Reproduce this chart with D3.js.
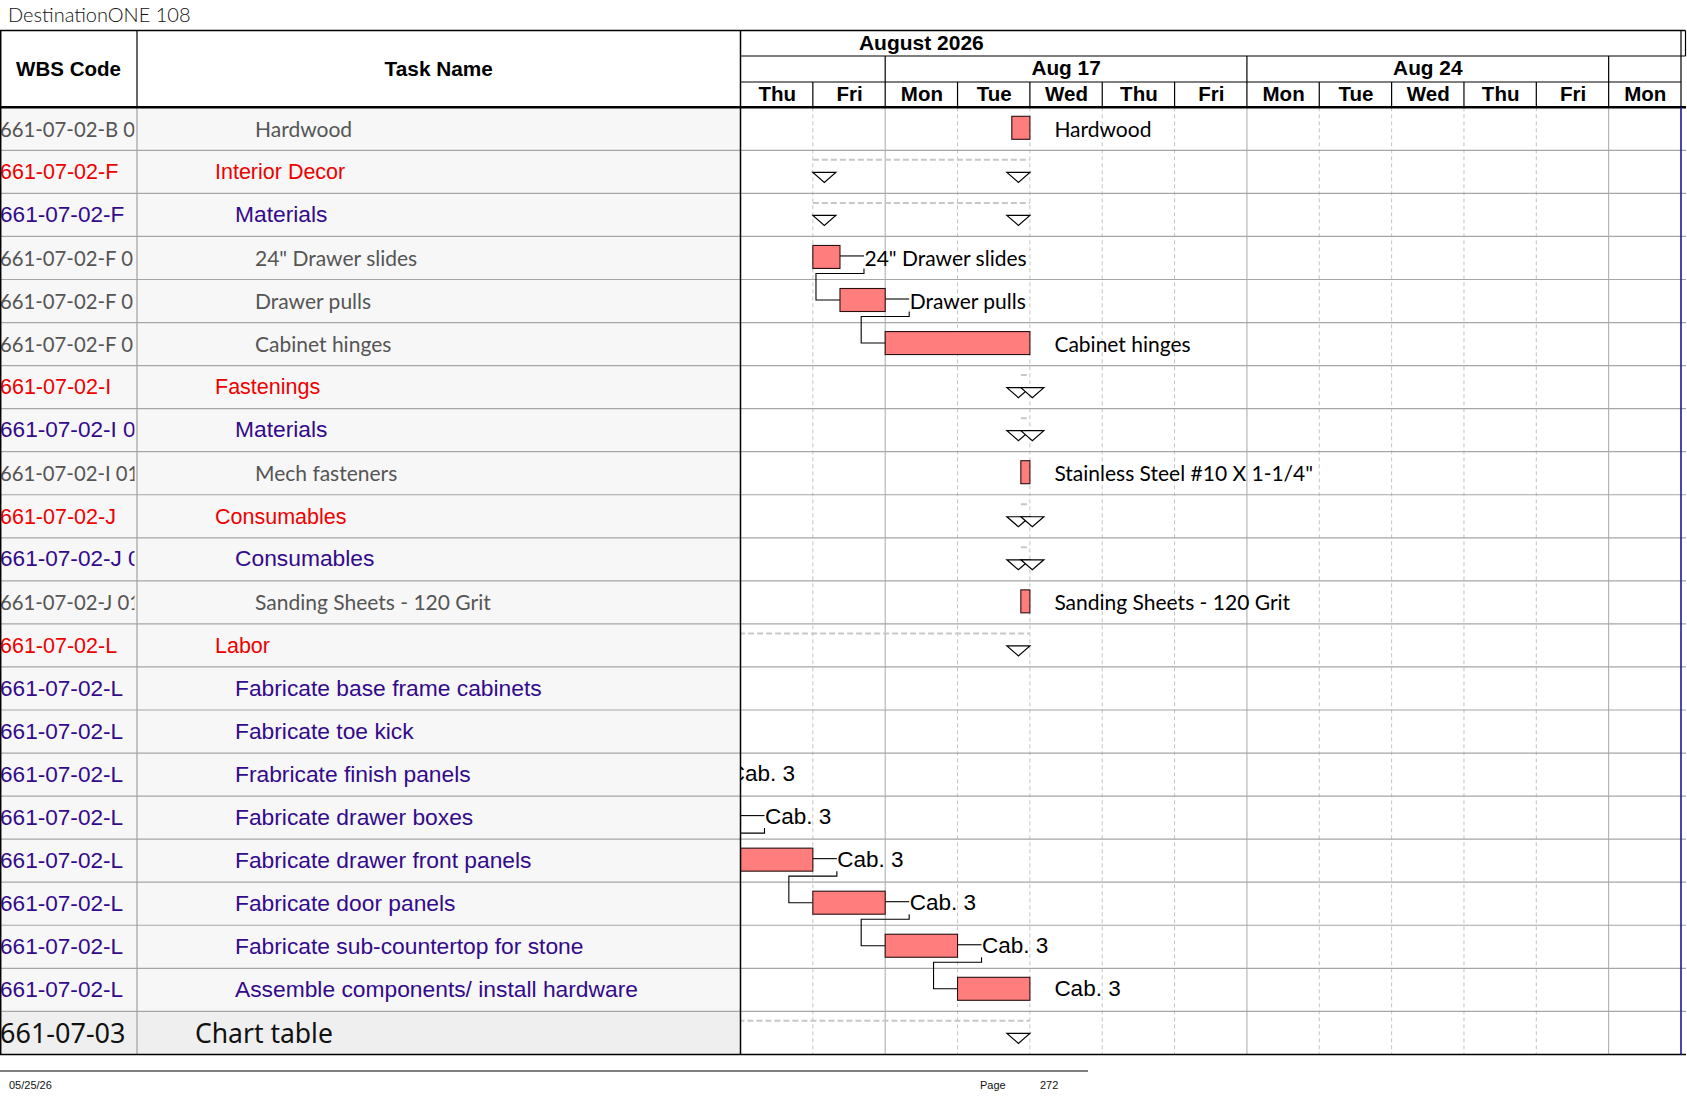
<!DOCTYPE html>
<html><head><meta charset="utf-8">
<script src="https://cdn.jsdelivr.net/npm/d3@7"></script>
<style>html,body{margin:0;padding:0;background:#fff;} svg{display:block;}</style>
</head><body><svg id="c" width="1687" height="1097"></svg>
<script>
// ---------------- DATA ----------------
const title = "DestinationONE 108";
const headerWbs = "WBS Code";
const headerTask = "Task Name";
const monthLabel = "August 2026";
const dayLabels = ["Thu","Fri","Mon","Tue","Wed","Thu","Fri","Mon","Tue","Wed","Thu","Fri","Mon"];
const weekLabels = ["", "Aug 17", "Aug 24", ""];
const wbsCodes = [
  "661-07-02-B 01", "661-07-02-F", "661-07-02-F", "661-07-02-F 01", "661-07-02-F 01", "661-07-02-F 01",
  "661-07-02-I", "661-07-02-I 01", "661-07-02-I 01", "661-07-02-J", "661-07-02-J 01", "661-07-02-J 01",
  "661-07-02-L", "661-07-02-L", "661-07-02-L", "661-07-02-L", "661-07-02-L", "661-07-02-L",
  "661-07-02-L", "661-07-02-L", "661-07-02-L", "661-07-03"
];
const taskNames = [
  "Hardwood", "Interior Decor", "Materials", "24\" Drawer slides", "Drawer pulls", "Cabinet hinges",
  "Fastenings", "Materials", "Mech fasteners", "Consumables", "Consumables", "Sanding Sheets - 120 Grit",
  "Labor", "Fabricate base frame cabinets", "Fabricate toe kick", "Frabricate finish panels",
  "Fabricate drawer boxes", "Fabricate drawer front panels", "Fabricate door panels",
  "Fabricate sub-countertop for stone", "Assemble components/ install hardware", "Chart table"
];
const taskLevels = [
  "item","group","sub","item","item","item",
  "group","sub","item","group","sub","item",
  "group","sub","sub","sub","sub","sub","sub","sub","sub","top"
];
const taskKinds = [
  "bar","summary","summary","bar","bar","bar",
  "summary","summary","bar","summary","summary","bar",
  "summary","bar","bar","bar","bar","bar","bar","bar","bar","summary"
];
// start / finish in working days counted from Thu Aug 13 (weekends skipped)
const taskStart = [3.75, 1, 1, 1, 1.375, 2, 3.875, 3.875, 3.875, 3.875, 3.875, 3.875,
                   -4, -4, -2.5, -1.5, -0.5, 0, 1, 2, 3, -6];
const taskEnd   = [4, 4, 4, 1.375, 2, 4, 4, 4, 4, 4, 4, 4,
                   4, -2.5, -1.5, -0.5, 0, 1, 2, 3, 4, 4];
const barLabels = [
  "Hardwood", "", "", "24\" Drawer slides", "Drawer pulls", "Cabinet hinges",
  "", "", "Stainless Steel #10 X 1-1/4\"", "", "", "Sanding Sheets - 120 Grit",
  "", "Cab. 3", "Cab. 3", "Cab. 3", "Cab. 3", "Cab. 3", "Cab. 3", "Cab. 3", "Cab. 3", ""
];
const links = [[3,4],[4,5],[13,14],[14,15],[15,16],[16,17],[17,18],[18,19],[19,20]];
const footerDate = "05/25/26";
const pageLabel = "Page";
const pageNumber = "272";

// ---------------- LAYOUT / STYLE ----------------
const L = {top:30.5, monthB:56, weekB:82, head:107.3, rowH:43.05, wbsR:137, taskR:740.5, tlR:1681, outerR:1685.5, lineR:1686};
const ARIAL = "'Liberation Sans', Arial, sans-serif";
const CAL = "Lato, 'Open Sans', sans-serif";
const levelStyle = {
  group: {font:ARIAL, size:21.5, wsize:21.5, color:"#ee0000", indent:215, base:28.8},
  sub:   {font:ARIAL, size:22.8, wsize:22.6, color:"#330a8c", indent:235, base:28.6},
  item:  {font:CAL,   size:21,   wsize:20.3, color:"#555555", indent:255, base:29.5},
  top:   {font:"'Noto Sans', sans-serif", size:26.5, wsize:27, color:"#111111", indent:195, base:31.5}
};

const svg = d3.select("#c");
const nRows = taskNames.length;
const bottom = L.head + nRows * L.rowH;
const y = d3.scaleBand().domain(d3.range(nRows)).range([L.head, bottom]);
const x = d3.scaleLinear().domain([0, dayLabels.length]).range([L.taskR, L.tlR]);

const defs = svg.append("defs");
defs.append("clipPath").attr("id","clipWbs").append("rect")
  .attr("x",0).attr("y",L.head).attr("width",L.wbsR-2.5).attr("height",bottom-L.head);
defs.append("clipPath").attr("id","clipTl").append("rect")
  .attr("x",L.taskR+0.5).attr("y",L.head).attr("width",L.tlR-L.taskR-0.5).attr("height",bottom-L.head);

// title
svg.append("text").attr("x",8).attr("y",22).text(title)
  .attr("font-family","Lato, sans-serif").attr("font-weight",300).attr("font-size",20).attr("fill","#111");

// row backgrounds
svg.append("g").selectAll("rect").data(d3.range(nRows)).join("rect")
  .attr("x",0).attr("y",i=>y(i)).attr("width",L.taskR).attr("height",y.bandwidth())
  .attr("fill",i=>taskLevels[i]==="top" ? "#efefef" : "#f7f7f7");

// vertical day grid lines in body
const grid = svg.append("g");
d3.range(1, dayLabels.length).forEach(i=>{
  const weekStart = dayLabels[i]==="Mon";
  grid.append("line").attr("x1",x(i)).attr("x2",x(i)).attr("y1",L.head).attr("y2",bottom)
    .attr("stroke", weekStart ? "#a8a8a8" : "#c4c4c4")
    .attr("stroke-width",1)
    .attr("stroke-dasharray", weekStart ? null : "4,3");
});
// row lines
svg.append("g").selectAll("line").data(d3.range(1,nRows)).join("line")
  .attr("x1",0).attr("x2",L.lineR).attr("y1",i=>y(i)).attr("y2",i=>y(i))
  .attr("stroke","#a6a6a6").attr("stroke-width",1.2);
// wbs / task separator in body
svg.append("line").attr("x1",L.wbsR).attr("x2",L.wbsR).attr("y1",L.head).attr("y2",bottom)
  .attr("stroke","#a0a0a0").attr("stroke-width",1.2);

// ---------------- TABLE TEXT ----------------
const gw = svg.append("g").attr("clip-path","url(#clipWbs)");
gw.selectAll("text").data(d3.range(nRows)).join("text")
  .attr("x",0).attr("y",i=>y(i)+levelStyle[taskLevels[i]].base)
  .attr("font-family",i=>levelStyle[taskLevels[i]].font)
  .attr("font-size",i=>levelStyle[taskLevels[i]].wsize)
  .attr("fill",i=>levelStyle[taskLevels[i]].color)
  .text(i=>wbsCodes[i]);
svg.append("g").selectAll("text").data(d3.range(nRows)).join("text")
  .attr("x",i=>levelStyle[taskLevels[i]].indent).attr("y",i=>y(i)+levelStyle[taskLevels[i]].base)
  .attr("font-family",i=>levelStyle[taskLevels[i]].font)
  .attr("font-size",i=>levelStyle[taskLevels[i]].size)
  .attr("fill",i=>levelStyle[taskLevels[i]].color)
  .text(i=>taskNames[i]);

// ---------------- GANTT MARKS ----------------
const gt = svg.append("g").attr("clip-path","url(#clipTl)");
const barTop = 9, barH = 23, triW = 23, triH = 10;
const idx = d3.range(nRows);
// summaries
idx.filter(i=>taskKinds[i]==="summary").forEach(i=>{
  const r = y(i), cy = r + 22;
  gt.append("line").attr("x1",x(taskStart[i])).attr("x2",x(taskEnd[i])).attr("y1",r+9.5).attr("y2",r+9.5)
    .attr("stroke","#c8c8c8").attr("stroke-width",2).attr("stroke-dasharray","6,3");
  const xe = x(taskEnd[i]), xs = x(taskStart[i]);
  gt.append("path").attr("d",`M${xe-triW},${cy}L${xe},${cy}L${xe-triW/2},${cy+triH}Z`)
    .attr("fill","#fff").attr("stroke","#000").attr("stroke-width",1.2);
  gt.append("path").attr("d",`M${xs},${cy}L${xs+triW},${cy}L${xs+triW/2},${cy+triH}Z`)
    .attr("fill","#fff").attr("stroke","#000").attr("stroke-width",1.2);
});
// links
links.forEach(([a,b])=>{
  const ra = y(a), rb = y(b);
  const xe = x(taskEnd[a]);
  const cyA = ra + barTop + barH/2 - 1, cyB = rb + barTop + barH/2;
  const lx = xe + 24;
  gt.append("path")
    .attr("d",`M${xe},${cyA}H${lx}`)
    .attr("fill","none").attr("stroke","#000").attr("stroke-width",1.1);
  gt.append("path")
    .attr("d",`M${lx},${ra+barTop+barH}V${ra+barTop+barH+5}H${xe-24}V${cyB}H${x(taskStart[b])}`)
    .attr("fill","none").attr("stroke","#000").attr("stroke-width",1.1);
});
// bars
gt.append("g").selectAll("rect").data(idx.filter(i=>taskKinds[i]==="bar")).join("rect")
  .attr("x",i=>x(taskStart[i])).attr("y",i=>y(i)+barTop)
  .attr("width",i=>x(taskEnd[i])-x(taskStart[i])).attr("height",barH)
  .attr("fill","#ff7d7d").attr("stroke","#2a1010").attr("stroke-width",1.1);
// bar labels
gt.append("g").selectAll("text").data(idx.filter(i=>barLabels[i])).join("text")
  .attr("x",i=>x(taskEnd[i])+24.5)
  .attr("y",i=>y(i)+(taskLevels[i]==="item"?29.3:28))
  .attr("font-family",i=>taskLevels[i]==="item"?CAL:ARIAL)
  .attr("font-size",i=>taskLevels[i]==="item"?21:22.5)
  .attr("fill","#000")
  .text(i=>barLabels[i]);

// ---------------- HEADER ----------------
const hd = svg.append("g");
hd.append("rect").attr("x",0).attr("y",L.top).attr("width",L.outerR).attr("height",L.head-L.top).attr("fill","#fff");
const hline = (x1,y1,x2,y2,w=1.2,c="#000")=>hd.append("line").attr("x1",x1).attr("y1",y1).attr("x2",x2).attr("y2",y2).attr("stroke",c).attr("stroke-width",w);
hline(0,L.top,L.outerR,L.top,1.5);
hline(0.7,L.top,0.7,bottom,1.5);
hline(L.wbsR,L.top,L.wbsR,L.head);
hline(L.taskR,L.top,L.taskR,bottom,1.5);
hline(L.taskR,L.monthB,L.outerR,L.monthB);
hline(L.taskR,L.weekB,L.tlR,L.weekB);
hline(L.tlR,L.top,L.tlR,L.head);
hline(L.outerR,L.top,L.outerR,L.monthB);
hline(0,L.head,L.lineR,L.head,2.4);
hline(0,bottom,L.lineR,bottom,1.5);
hline(L.tlR,L.head,L.tlR,bottom,1.6,"#1a1a9a");

const hfont = (sel,size)=>sel.attr("font-family",ARIAL).attr("font-weight","bold").attr("font-size",size).attr("fill","#000").attr("text-anchor","middle");
hfont(hd.append("text").attr("x",L.wbsR/2).attr("y",75.5).text(headerWbs),20.5);
hfont(hd.append("text").attr("x",(L.wbsR+L.taskR)/2).attr("y",75.5).text(headerTask),20.8);
hfont(hd.append("text").attr("x",x(2.5)).attr("y",49.5).text(monthLabel),21);

// weeks derived from day labels (a new week starts on Monday)
const weekStarts = [0].concat(d3.range(1,dayLabels.length).filter(i=>dayLabels[i]==="Mon"));
const weeks = weekStarts.map((s,k)=>({from:s, to: k+1<weekStarts.length ? weekStarts[k+1] : dayLabels.length, label:weekLabels[k]}));
weeks.forEach(w=>{
  if (w.from>0) hline(x(w.from),L.monthB,x(w.from),L.weekB);
  hfont(hd.append("text").attr("x",(x(w.from)+x(w.to))/2).attr("y",75.3).text(w.label),20.8);
});
d3.range(1,dayLabels.length).forEach(i=>hline(x(i),L.weekB,x(i),L.head));
const dayAxis = d3.axisTop(x)
  .tickValues(d3.range(dayLabels.length).map(i=>i+0.5))
  .tickFormat(d=>dayLabels[Math.floor(d)])
  .tickSize(0).tickPadding(0);
const ga = hd.append("g").attr("transform","translate(0,101)").call(dayAxis);
ga.select(".domain").remove();
ga.selectAll("text").attr("font-family",ARIAL).attr("font-weight","bold").attr("font-size",20.5).attr("fill","#000");

// ---------------- FOOTER ----------------
svg.append("line").attr("x1",0).attr("x2",1088).attr("y1",1071).attr("y2",1071).attr("stroke","#000").attr("stroke-width",1.2);
const ft = (t,xx)=>svg.append("text").attr("x",xx).attr("y",1089).text(t)
  .attr("font-family",ARIAL).attr("font-size",11).attr("fill","#111");
ft(footerDate,9); ft(pageLabel,980); ft(pageNumber,1040);
</script></body></html>
